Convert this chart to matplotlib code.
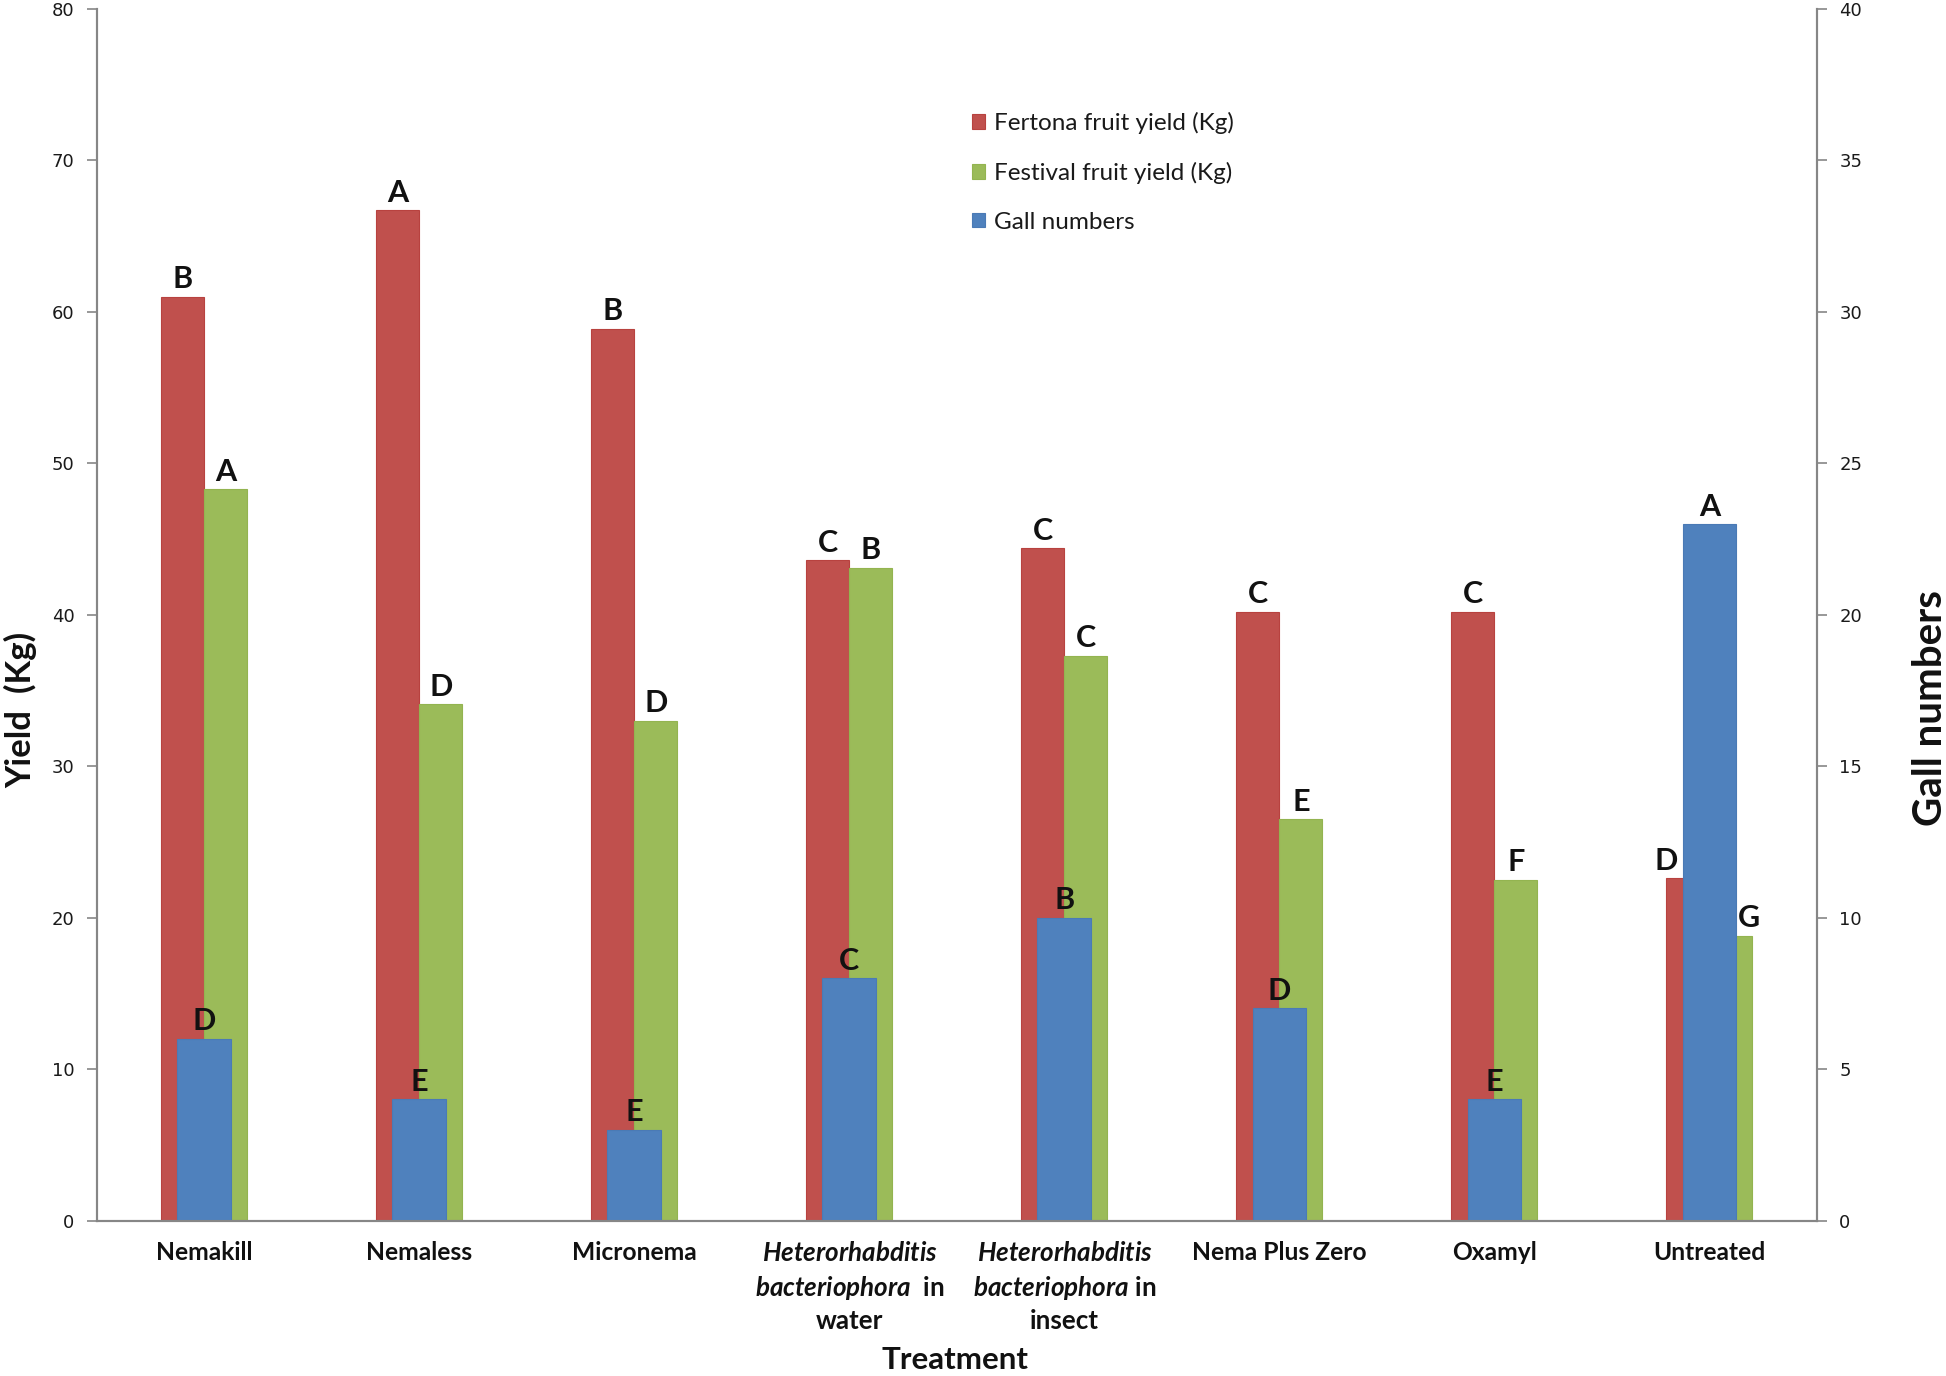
import matplotlib
matplotlib.use('Agg')
import matplotlib.pyplot as plt
import numpy as np

# ---- data ----
treatments = ['Nemakill', 'Nemaless', 'Micronema',
              '$\\mathit{Heterorhabditis}$\n$\\mathit{bacteriophora}$  in\nwater',
              '$\\mathit{Heterorhabditis}$\n$\\mathit{bacteriophora}$ in\ninsect',
              'Nema Plus Zero', 'Oxamyl', 'Untreated']
fertona = [61.0, 66.7, 58.9, 43.6, 44.4, 40.2, 40.2, 22.6]
festival = [48.3, 34.1, 33.0, 43.1, 37.3, 26.5, 22.5, 18.8]
galls = [6, 4, 3, 8, 10, 7, 4, 23]
fertona_letters = ['B', 'A', 'B', 'C', 'C', 'C', 'C', 'D']
festival_letters = ['A', 'D', 'D', 'B', 'C', 'E', 'F', 'G']
gall_letters = ['D', 'E', 'E', 'C', 'B', 'D', 'E', 'A']
yield_ticks = [0, 10, 20, 30, 40, 50, 60, 70, 80]
gall_ticks = [0, 5, 10, 15, 20, 25, 30, 35, 40]

plt.rcParams['mathtext.fontset'] = 'custom'
plt.rcParams['mathtext.it'] = 'Lato:italic:bold'
plt.rcParams['mathtext.rm'] = 'Lato:bold'
plt.rcParams['mathtext.bf'] = 'Lato:bold'

RED = '#C0504D'
GREEN = '#9BBB59'
BLUE = '#4F81BD'
AXC = '#868686'

W, H = 1946, 1376
fig = plt.figure(figsize=(W / 100, H / 100), dpi=100)
left, right, top, bottom = 96.7, 1817, 9, 1220.5
ax = fig.add_axes([left / W, 1 - bottom / H, (right - left) / W, (bottom - top) / H])
ax2 = ax.twinx()

x = np.arange(len(treatments))
bw = 0.2
b1 = ax.bar(x - bw / 2, fertona, width=bw, color=RED, edgecolor='#B8423F', linewidth=0.8,
            label='Fertona fruit yield (Kg)')
b2 = ax.bar(x + bw / 2, festival, width=bw, color=GREEN, edgecolor='#93B450', linewidth=0.8,
            label='Festival fruit yield (Kg)')
b3 = ax2.bar(x, galls, width=0.25, color=BLUE, edgecolor='#4A7AB5', linewidth=0.8,
             label='Gall numbers')

ax.set_xlim(-0.5, len(treatments) - 0.5)
ax.set_ylim(0, 80)
ax2.set_ylim(0, 40)
ax.set_yticks(yield_ticks)
ax2.set_yticks(gall_ticks)

for a in (ax, ax2):
    a.spines['top'].set_visible(False)
    for s in ('left', 'right', 'bottom'):
        a.spines[s].set_color(AXC)
        a.spines[s].set_linewidth(1.5)
ax.tick_params(axis='y', which='major', length=7, width=1.2, color=AXC, pad=9,
               labelsize=13, labelcolor='#1a1a1a')
ax2.tick_params(axis='y', which='major', length=7, width=1.2, color=AXC, pad=9,
                labelsize=13, labelcolor='#1a1a1a')
for lab in ax.get_yticklabels() + ax2.get_yticklabels():
    lab.set_fontfamily('DejaVu Sans')

ax.set_xticks(x)
ax.set_xticklabels(treatments, fontfamily='Lato', fontweight='bold', fontsize=17.7,
                   linespacing=1.38, color='#111111')
for lab in ax.get_xticklabels():
    if 'Heterorhabditis' in lab.get_text():
        lab.set_fontsize(18.7)
ax.tick_params(axis='x', length=0, pad=15)

lfont = dict(fontfamily='Lato', fontweight='bold', fontsize=22, color='#111111')
n = len(treatments)
for i in range(n):
    dx_r = -16 if i == n - 1 else 0
    dx_g = 13 if i == n - 1 else 0
    ax2.annotate(fertona_letters[i], (x[i] - bw / 2, fertona[i]), xycoords=ax.transData,
                 xytext=(dx_r, 6), textcoords='offset points', ha='center', va='baseline',
                 zorder=10, **lfont)
    ax2.annotate(festival_letters[i], (x[i] + bw / 2, festival[i]), xycoords=ax.transData,
                 xytext=(dx_g, 6), textcoords='offset points', ha='center', va='baseline',
                 zorder=10, **lfont)
    ax2.annotate(gall_letters[i], (x[i], galls[i]), xytext=(0, 6),
                 textcoords='offset points', ha='center', va='baseline', zorder=10, **lfont)

fig.text(21 / W, 1 - 710 / H, 'Yield  (Kg)', rotation=90, ha='center', va='center',
         fontfamily='Lato', fontweight='bold', fontsize=25, color='#111111')
fig.text(1930 / W, 1 - 708 / H, 'Gall numbers', rotation=90, ha='center', va='center',
         fontfamily='Lato', fontweight='bold', fontsize=29, color='#111111')
fig.text(955 / W, 1 - 1360 / H, 'Treatment', ha='center', va='center',
         fontfamily='Lato', fontweight='bold', fontsize=22.5, color='#111111')

leg = fig.legend(handles=[b1, b2, b3], loc='upper left',
                 bbox_to_anchor=(972 / W, 1 - 112 / H), frameon=False,
                 prop={'family': 'Lato', 'size': 17.5}, handlelength=0.55, handleheight=0.55,
                 handletextpad=0.35, labelspacing=1.14, borderpad=0, borderaxespad=0)
for t in leg.get_texts():
    t.set_color('#1a1a1a')

fig.savefig('out.png', dpi=100, facecolor='white')
